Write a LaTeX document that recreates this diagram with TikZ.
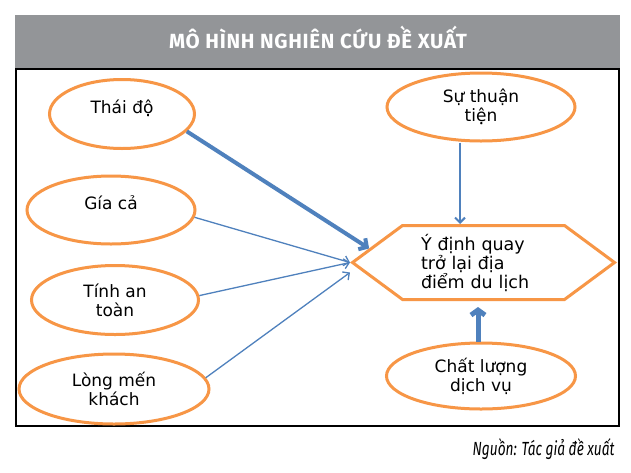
\documentclass[tikz,border=0pt]{standalone}
\usepackage{fontspec}
\usepackage[dvipsnames]{xcolor}
\usetikzlibrary{shapes.geometric,shapes.symbols,arrows.meta}
\setmainfont{DejaVu Sans}
\newfontfamily\titlefont[LetterSpace=3.5]{Fira Sans}
\newfontfamily\notefont[FakeStretch=0.72]{Fira Sans}
\definecolor{boxorange}{HTML}{F79646}
\definecolor{arrowblue}{HTML}{4F81BD}
\definecolor{bargray}{HTML}{939598}

\begin{document}
\begin{tikzpicture}[x=1pt,y=-1pt,>={Straight Barb[length=5pt,width=10pt]},
    factor node/.style={ellipse,draw=boxorange,line width=3pt,inner sep=0pt,align=center,font=\fontsize{17}{19}\selectfont},
    one line/.style={text depth=14pt},
    goal node/.style={signal,signal to=east and west,signal pointer angle=73,draw=boxorange,line width=3pt,inner sep=0pt,text width=125pt,align=left,font=\fontsize{17.5}{19}\selectfont},
    link/.style={->,draw=arrowblue,line width=1.3pt}]

            \useasboundingbox (0,0) rectangle (631,472);
            \fill[white] (0,0) rectangle (631,472);
            \fill[bargray] (15,15) rectangle (620,68);
            \draw[line width=1.2pt] (16,69) rectangle (619,426);

            \node[anchor=base,text=white,font=\titlefont\bfseries\fontsize{20.5}{24}\selectfont] (title) at (318,48) {MÔ HÌNH NGHIÊN CỨU ĐỀ XUẤT};
            \node[anchor=base east,font=\notefont\itshape\fontsize{19}{22}\selectfont] (note) at (618,455) {Nguồn: Tác giả đề xuất};

            \node[factor node,one line,minimum width=145pt,minimum height=69pt] (thai) at (122,114) {Thái độ};
            \node[factor node,one line,minimum width=168pt,minimum height=68pt] (gia) at (111,210) {Gía cả};
            \node[factor node,minimum width=167pt,minimum height=69pt] (antoan) at (115,300) {Tính an\\toàn};
            \node[factor node,minimum width=190pt,minimum height=70pt] (long) at (114,389) {Lòng mến\\khách};
            \node[factor node,minimum width=188pt,minimum height=68pt] (thuan) at (481,107) {Sự thuận\\tiện};
            \node[factor node,minimum width=189pt,minimum height=66pt] (chat) at (481,376) {Chất lượng\\dịch vụ};
            \node[goal node,minimum width=262pt,minimum height=74pt] (goal) at (483.5,262.5) {Ý định quay\\trở lại địa\\điểm du lịch};

            % \path[every node/.style={font=\small}]

            \draw[link,line width=4pt,>={Straight Barb[length=6pt,width=13pt]}] (thai.-15) to (goal.173);
            \draw[link] (gia.-5) to (goal.west);
            \draw[link] (antoan.3) to (goal.west);
            \draw[link] (long.7) to ([yshift=-10pt]goal.west);
            \draw[link,line width=2pt] ([xshift=-21pt]thuan.south) to ([xshift=-23.5pt]goal.north);
            \draw[link,line width=5pt,>={Straight Barb[length=5pt,width=14pt]}] ([xshift=-3pt]chat.north) to ([xshift=-5.5pt,yshift=-6pt]goal.south);

            ;
        \end{tikzpicture}
\end{document}
